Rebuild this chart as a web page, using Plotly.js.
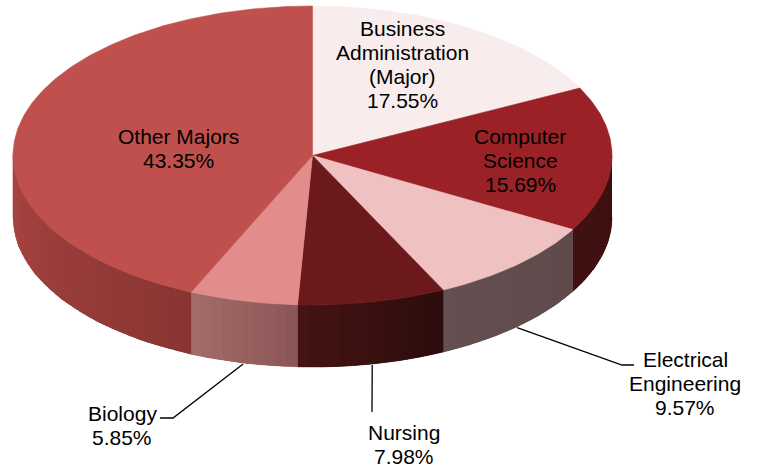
<!DOCTYPE html>
<html>
<head>
<meta charset="utf-8">
<script src="https://cdn.plot.ly/plotly-3.0.1.min.js"></script>
<style>
html,body{margin:0;padding:0;background:#fff;}
#chart{width:759px;height:468px;}
</style>
</head>
<body>
<div id="chart"></div>
<script>
// ---- data ----
const categories = ['Business Administration (Major)', 'Computer Science', 'Electrical Engineering', 'Nursing', 'Biology', 'Other Majors'];
const shares = [17.55, 15.69, 9.57, 7.98, 5.85, 43.35];
const labelLines = [['Business', 'Administration', '(Major)'], ['Computer', 'Science'], ['Electrical', 'Engineering'], ['Nursing'], ['Biology'], ['Other Majors']];

// ---- styles ----
const topColors = ['#f8ecec', '#9a2226', '#efc1c1', '#6b191b', '#e28d8c', '#c0504d'];
const sideFrom = ['#f0e0e0', '#3c0f0f', '#5e4a4a', '#2c0c0c', '#8a5655', '#8a3533'];
const sideTo   = ['#f0e0e0', '#401111', '#645050', '#461414', '#a46c6b', '#a84542'];
// label placement (layout): center of first line, and leader path
const labelPos = [
  {x: 402, y: 28},
  {x: 520, y: 136},
  {x: 685, y: 359, path: [[622, 365], [634, 365]]},
  {x: 404, y: 432, path: [[372, 412]]},
  {x: 122, y: 413, path: [[173, 418], [160, 418]]},
  {x: 178, y: 136}
];
const LINE_STEP = 24.3;

// ---- geometry (pixel space via axes) ----
const CX = 312.5, CY = 155.5, RX = 299.5, RY = 149.5, DEPTH = 62;
function pt(t, dy) {
  const a = 2 * Math.PI * t;
  return [CX + RX * Math.sin(a), CY - RY * Math.cos(a) + (dy || 0)];
}
function hex2rgb(h) { return [1, 3, 5].map(i => parseInt(h.substr(i, 2), 16)); }
function mix(c1, c2, f) {
  const a = hex2rgb(c1), b = hex2rgb(c2);
  return 'rgb(' + a.map((v, i) => Math.round(v + (b[i] - v) * f)).join(',') + ')';
}

const total = shares.reduce((s, v) => s + v, 0);
const bounds = [];
let acc = 0;
shares.forEach(v => { bounds.push([acc / total, (acc + v) / total]); acc += v; });

const traces = [];
function poly(xs, ys, color, lw) {
  traces.push({
    type: 'scatter', mode: 'lines', x: xs, y: ys, fill: 'toself',
    fillcolor: color, line: {color: color, width: lw || 0},
    hoverinfo: 'skip', showlegend: false
  });
}
function sideStrip(t0, t1) {
  const xs = [], ys = [], m = 6;
  for (let j = 0; j <= m; j++) { const p = pt(t0 + (t1 - t0) * j / m, 0); xs.push(p[0]); ys.push(p[1]); }
  for (let j = m; j >= 0; j--) { const p = pt(t0 + (t1 - t0) * j / m, DEPTH); xs.push(p[0]); ys.push(p[1]); }
  return [xs, ys];
}

// side walls (visible front half: t in [0.25, 0.75])
bounds.forEach((b, i) => {
  const s = Math.max(b[0], 0.25), e = Math.min(b[1], 0.75);
  if (e <= s) return;
  // solid base under the gradient strips
  const base = sideStrip(s, e);
  poly(base[0], base[1], mix(sideFrom[i], sideTo[i], 0.5), 0.6);
  const n = Math.max(2, Math.ceil((e - s) / 0.006));
  const step = (e - s) / n;
  for (let k = 0; k < n; k++) {
    const t0 = s + step * k;
    const t1 = Math.min(e, t0 + step * 1.8);
    const sp = sideStrip(t0, t1);
    poly(sp[0], sp[1], mix(sideFrom[i], sideTo[i], (k + 0.5) / n), 0);
  }
});

// top face wedges
bounds.forEach((b, i) => {
  const xs = [CX], ys = [CY];
  const n = Math.max(8, Math.ceil((b[1] - b[0]) / 0.002));
  for (let j = 0; j <= n; j++) { const p = pt(b[0] + (b[1] - b[0]) * j / n, 0); xs.push(p[0]); ys.push(p[1]); }
  xs.push(CX); ys.push(CY);
  poly(xs, ys, topColors[i], 0.6);
});

// leader lines
bounds.forEach((b, i) => {
  const lp = labelPos[i];
  if (!lp.path) return;
  const start = pt((b[0] + b[1]) / 2, DEPTH + 1);
  const xs = [start[0]], ys = [start[1]];
  lp.path.forEach(p => { xs.push(p[0]); ys.push(p[1]); });
  traces.push({type: 'scatter', mode: 'lines', x: xs, y: ys,
    line: {color: '#000', width: 1.3}, hoverinfo: 'skip', showlegend: false});
});

// labels
const annotations = [];
categories.forEach((c, i) => {
  const lines = labelLines[i].concat([shares[i].toFixed(2) + '%']);
  lines.forEach((txt, k) => {
    annotations.push({
      x: labelPos[i].x, y: labelPos[i].y + k * LINE_STEP, xref: 'x', yref: 'y',
      text: txt, showarrow: false, xanchor: 'center', yanchor: 'middle',
      font: {family: 'Liberation Sans, Arial, sans-serif', size: 21, color: '#000'}
    });
  });
});

const layout = {
  width: 759, height: 468,
  margin: {l: 0, r: 0, t: 0, b: 0},
  paper_bgcolor: '#fff', plot_bgcolor: '#fff',
  xaxis: {range: [0, 759], visible: false, fixedrange: true},
  yaxis: {range: [468, 0], visible: false, fixedrange: true},
  annotations: annotations,
  showlegend: false
};
Plotly.newPlot('chart', traces, layout, {displayModeBar: false, staticPlot: true});
</script>
</body>
</html>
